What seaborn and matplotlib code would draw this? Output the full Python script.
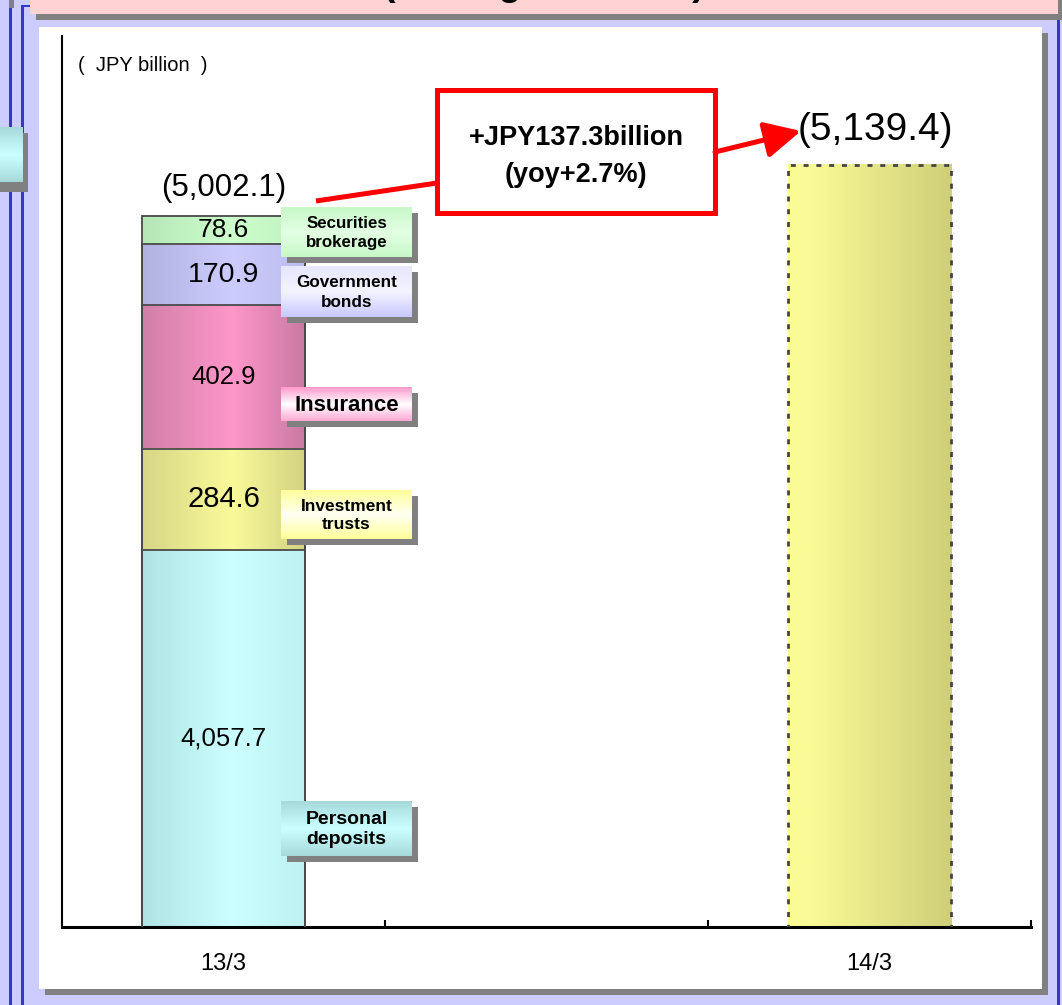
import numpy as np
import pandas as pd
import matplotlib
matplotlib.use("Agg")
import matplotlib.pyplot as plt
import seaborn as sns
from matplotlib.patches import Rectangle, FancyArrowPatch
from matplotlib.colors import LinearSegmentedColormap

# ---- data (JPY billion) ----
period_slots = ["13/3", "-", "14/3"]
tick_labels = ["13/3", "14/3"]
segment_names = ["Personal deposits", "Investment trusts", "Insurance",
                 "Government bonds", "Securities brokerage"]
segment_values = [4057.7, 284.6, 402.9, 170.9, 78.6]
segment_value_labels = ["4,057.7", "284.6", "402.9", "170.9", "78.6"]
box_labels = ["Personal\ndeposits", "Investment\ntrusts", "Insurance",
              "Government\nbonds", "Securities\nbrokerage"]
total_values = [5002.1, 5139.4]
total_labels = ["(5,002.1)", "(5,139.4)"]
change_label = "+JPY137.3billion\n(yoy+2.7%)"
unit_label = "(  JPY billion  )"
title_label = "(Average balance)"

sns.set_theme(style="white")
plt.rcParams["font.family"] = ["Liberation Sans", "DejaVu Sans"]
plt.rcParams["text.color"] = "black"
plt.rcParams["xtick.color"] = "black"
plt.rcParams["xtick.labelcolor"] = "black"
NUM_FONT = ["Liberation Sans", "DejaVu Sans"]

W, H = 1062, 1005
fig = plt.figure(figsize=(W / 100, H / 100), dpi=100, facecolor="#CCCCFF")


def grad(axis, extent, stops, vertical=False, z=1):
    cmap = LinearSegmentedColormap.from_list("g", stops)
    g = np.linspace(0, 1, 256)
    arr = g[:, None] if vertical else g[None, :]
    axis.imshow(arr, cmap=cmap, extent=extent, aspect="auto", zorder=z,
                interpolation="bilinear")


# ---- slide decoration layer (pixel coordinates, origin top-left) ----
bg = fig.add_axes([0, 0, 1, 1], zorder=0)
bg.set_xlim(0, W)
bg.set_ylim(H, 0)
bg.axis("off")

blue = "#3636CC"
bg.add_patch(Rectangle((9, 8), 3, H, color=blue, lw=0))
bg.add_patch(Rectangle((21, 5), 3, H, color=blue, lw=0))
bg.add_patch(Rectangle((21, 5), 12, 2, color=blue, lw=0))
bg.add_patch(Rectangle((1057, 20), 3, H, color=blue, lw=0))
bg.add_patch(Rectangle((9, 0), 5, 8, color="#808080", lw=0))

# title bar
bg.add_patch(Rectangle((36, 0), 1030, 20, color="#808080", lw=0))
bg.add_patch(Rectangle((30, -5), 1028, 19, color="#FFD3D3", lw=0))
bg.text(544, -5.5, title_label, ha="center", va="baseline", fontsize=27,
        weight="bold", color="black")

# small side tab
bg.add_patch(Rectangle((0, 133), 28, 59, color="#808080", lw=0))
grad(bg, (0, 23, 182, 127), ["#A6DADA", "#CCFFFF", "#A6DADA"], vertical=True, z=2)

# white panel with drop shadow
bg.add_patch(Rectangle((45, 33), 1003, 962, color="#808080", lw=0))
bg.add_patch(Rectangle((39, 27), 1003, 962, color="white", lw=0))

# ---- chart axes ----
ax = fig.add_axes([62 / W, 1 - 927 / H, 969 / W, 891 / H], zorder=1)
ax.set_facecolor("none")

Y0, Y1 = 3000, 5500
cum = np.cumsum(segment_values)
df_stack = pd.DataFrame({"period": period_slots[0], "segment": segment_names,
                         "cumulative": cum})
df_total = pd.DataFrame({"period": [period_slots[2]], "total": [total_values[1]]})

seg_stops = [
    ["#B0E4E4", "#CCFFFF", "#BEF2F2"],
    ["#D6D686", "#FAFA9A", "#D2D282"],
    ["#D080A8", "#FF96CA", "#C87AA2"],
    ["#B2B2E0", "#CCCCFF", "#BCBCEC"],
    ["#B6E6B6", "#CCFFCC", "#C0F0C0"],
]
seg_font = [18.5, 21, 18.5, 20.5, 19]

seg_patches = {}
for i in range(len(segment_names) - 1, -1, -1):
    n0 = len(ax.patches)
    sns.barplot(data=df_stack[df_stack["segment"] == segment_names[i]],
                x="period", y="cumulative", order=period_slots, width=0.505,
                color="white", edgecolor="#4A4A4A", linewidth=1.3, ax=ax,
                zorder=3)
    seg_patches[i] = ax.patches[n0]

n0 = len(ax.patches)
sns.barplot(data=df_total, x="period", y="total", order=period_slots,
            width=0.505, color="white", edgecolor="#454545", linewidth=2.0,
            ax=ax, zorder=3)
total_patch = ax.patches[n0]

ax.set_xlim(-0.5, 2.5)
ax.set_ylim(Y0, Y1)

for i, p in seg_patches.items():
    p.set_facecolor("none")
    x0 = p.get_x()
    lo = max(cum[i] - segment_values[i], Y0)
    hi = cum[i]
    grad(ax, (x0, x0 + p.get_width(), lo, hi),
         [(0, seg_stops[i][0]), (0.55, seg_stops[i][1]), (1, seg_stops[i][2])],
         z=2)
    ax.text(x0 + p.get_width() / 2, (lo + hi) / 2, segment_value_labels[i],
            ha="center", va="center", fontsize=seg_font[i], family=NUM_FONT,
            zorder=4)

total_patch.set_facecolor("none")
total_patch.set_linestyle((0, (1.8, 2.8)))
tx0 = total_patch.get_x()
grad(ax, (tx0, tx0 + total_patch.get_width(), Y0, total_values[1]),
     [(0, "#FCFC96"), (0.15, "#FAFA96"), (1, "#CFCF7A")], z=2)

ax.set_xlim(-0.5, 2.5)
ax.set_ylim(Y0, Y1)

# totals above the bars
ax.annotate(total_labels[0], xy=(0, total_values[0]), xytext=(0, 18),
            textcoords="offset points", ha="center", va="center",
            fontsize=22.5, family=NUM_FONT)
ax.annotate(total_labels[1], xy=(2, total_values[1]), xytext=(4, 25),
            textcoords="offset points", ha="center", va="center",
            fontsize=28, family=NUM_FONT)

ax.set_xlabel("")
ax.set_ylabel("")
ax.set_yticks([])
ax.set_xticks([0, 2], tick_labels, fontsize=17, family=NUM_FONT)
ax.set_xticks([0.5, 1.5, 2.5], minor=True)
ax.tick_params(axis="x", which="major", length=0, pad=19, colors="black")
ax.tick_params(axis="x", which="minor", direction="in", length=5, width=1.5,
               color="black", bottom=True)
for side in ("top", "right"):
    ax.spines[side].set_visible(False)
ax.spines["left"].set_color("black")
ax.spines["left"].set_linewidth(1.5)
ax.spines["bottom"].set_color("black")
ax.spines["bottom"].set_linewidth(2.2)
ax.grid(False)

# ---- overlay layer: category boxes, change callout ----
fg = fig.add_axes([0, 0, 1, 1], zorder=2)
fg.set_xlim(0, W)
fg.set_ylim(H, 0)
fg.axis("off")

fg.text(78, 65, unit_label, ha="left", va="center", fontsize=14.5)

box_x0, box_x1 = 281, 412
box_rows = [(801, 856), (490, 539), (387, 421), (266, 317), (207, 257)]
box_stops = [
    ["#A6DADA", "#CCFFFF", "#A6DADA"],
    ["#FFFF99", "#FFFFF4", "#FFFF99"],
    ["#FF99CC", "#FFFFFF", "#FFA8D4"],
    ["#E6E6FF", "#F4F4FF", "#C8C8FF"],
    ["#C8F8C8", "#E2FFE2", "#C8F8C8"],
]
box_fs = [14, 12.5, 16, 12.3, 12.2]
box_ls = [1.3, 1.3, 1.0, 1.35, 1.35]
for (y0, y1), stops, txt, fs, ls in zip(box_rows, box_stops, box_labels,
                                        box_fs, box_ls):
    fg.add_patch(Rectangle((box_x0 + 6, y0 + 6), box_x1 - box_x0, y1 - y0,
                           color="#808080", lw=0, zorder=1))
    grad(fg, (box_x0, box_x1, y1, y0), stops, vertical=True, z=2)
    fg.text((box_x0 + box_x1) / 2, (y0 + y1) / 2 + 1, txt, ha="center",
            va="center", fontsize=fs, weight="bold", linespacing=ls,
            zorder=3)

red = "#FF0000"
fg.plot([316, 437], [201, 183], color=red, lw=3.6, solid_capstyle="butt",
        zorder=3)
fg.add_patch(Rectangle((437, 90), 278, 123, facecolor="white", edgecolor=red,
                       lw=3.6, zorder=4))
fg.text(576, 156, change_label, ha="center", va="center", fontsize=19.5,
        weight="bold", linespacing=1.55, zorder=5)
fg.add_patch(FancyArrowPatch((715, 152), (801, 131),
                             arrowstyle="-|>,head_length=1.1,head_width=0.55",
                             mutation_scale=20, color=red, lw=3.6,
                             shrinkA=0, shrinkB=0, zorder=4))

fig.savefig("out.png", dpi=100, facecolor=fig.get_facecolor())
